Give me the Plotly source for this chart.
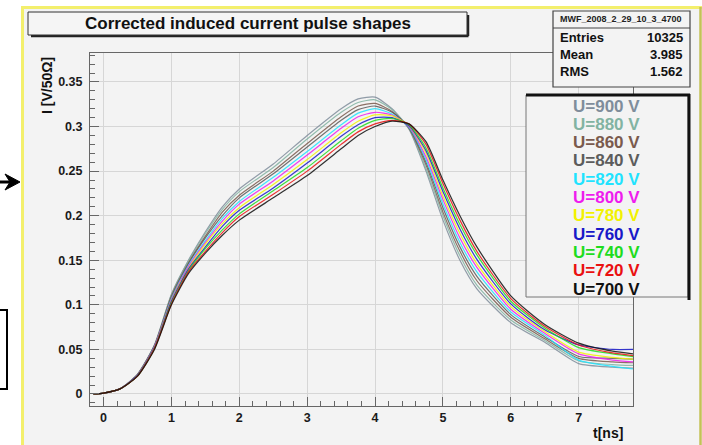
import plotly.graph_objects as go

# ---- data -------------------------------------------------------------
t_ns = [-0.15, 0.0, 0.25, 0.5, 0.75, 1.0, 1.25, 1.5, 1.75, 2.0, 2.5, 3.0, 3.5,
        3.75, 4.0, 4.25, 4.5, 4.75, 5.0, 5.25, 5.5, 6.0, 6.5, 7.0, 7.5, 7.8]

voltages = [900, 880, 860, 840, 820, 800, 780, 760, 740, 720, 700]
legend_labels = [f"U={v} V" for v in voltages]

i_900 = [0.000, 0.001, 0.006, 0.022, 0.055, 0.112, 0.150, 0.182, 0.210, 0.230, 0.258, 0.290, 0.320,
         0.331, 0.333, 0.320, 0.297, 0.250, 0.195, 0.150, 0.118, 0.080, 0.058, 0.034, 0.030, 0.029]
i_880 = [0.000, 0.001, 0.006, 0.022, 0.055, 0.111, 0.149, 0.180, 0.207, 0.227, 0.254, 0.286, 0.316,
         0.327, 0.330, 0.319, 0.298, 0.253, 0.200, 0.155, 0.122, 0.083, 0.060, 0.037, 0.033, 0.032]
i_860 = [0.000, 0.001, 0.006, 0.022, 0.054, 0.110, 0.147, 0.177, 0.204, 0.223, 0.250, 0.281, 0.311,
         0.323, 0.326, 0.317, 0.298, 0.257, 0.204, 0.160, 0.127, 0.086, 0.062, 0.040, 0.036, 0.035]
i_840 = [0.000, 0.001, 0.006, 0.021, 0.054, 0.108, 0.146, 0.175, 0.200, 0.220, 0.247, 0.277, 0.307,
         0.319, 0.323, 0.316, 0.299, 0.260, 0.209, 0.165, 0.132, 0.089, 0.064, 0.042, 0.040, 0.039]
i_820 = [0.000, 0.001, 0.006, 0.021, 0.053, 0.107, 0.144, 0.172, 0.197, 0.216, 0.243, 0.272, 0.302,
         0.315, 0.320, 0.314, 0.299, 0.263, 0.213, 0.170, 0.137, 0.092, 0.066, 0.038, 0.031, 0.028]
i_800 = [0.000, 0.001, 0.006, 0.021, 0.053, 0.106, 0.143, 0.170, 0.194, 0.213, 0.239, 0.268, 0.298,
         0.311, 0.316, 0.313, 0.300, 0.266, 0.218, 0.175, 0.142, 0.095, 0.068, 0.045, 0.038, 0.036]
i_780 = [0.000, 0.001, 0.006, 0.021, 0.052, 0.105, 0.141, 0.168, 0.191, 0.209, 0.235, 0.263, 0.293,
         0.306, 0.313, 0.312, 0.301, 0.270, 0.222, 0.180, 0.146, 0.098, 0.070, 0.047, 0.041, 0.039]
i_760 = [0.000, 0.001, 0.006, 0.021, 0.052, 0.104, 0.140, 0.165, 0.188, 0.206, 0.231, 0.259, 0.289,
         0.302, 0.310, 0.310, 0.301, 0.273, 0.227, 0.185, 0.151, 0.101, 0.072, 0.055, 0.050, 0.050]
i_740 = [0.000, 0.001, 0.006, 0.020, 0.051, 0.102, 0.138, 0.163, 0.184, 0.202, 0.228, 0.254, 0.284,
         0.298, 0.307, 0.309, 0.302, 0.276, 0.231, 0.190, 0.156, 0.104, 0.074, 0.052, 0.045, 0.042]
i_720 = [0.000, 0.001, 0.006, 0.020, 0.051, 0.101, 0.137, 0.160, 0.181, 0.199, 0.224, 0.250, 0.280,
         0.294, 0.303, 0.307, 0.303, 0.280, 0.236, 0.195, 0.160, 0.107, 0.076, 0.055, 0.046, 0.043]
i_700 = [0.000, 0.001, 0.006, 0.020, 0.050, 0.100, 0.135, 0.158, 0.178, 0.195, 0.220, 0.245, 0.275,
         0.290, 0.300, 0.306, 0.303, 0.283, 0.240, 0.200, 0.165, 0.110, 0.078, 0.057, 0.048, 0.045]

currents = [i_900, i_880, i_860, i_840, i_820, i_800, i_780, i_760, i_740, i_720, i_700]

colors = ["#7f8d9b", "#82b3a2", "#7a5a4d", "#5c5c5c", "#1fe3ff", "#ee1cee",
          "#f2f200", "#1818c8", "#1edc1e", "#ea1010", "#101010"]

stats_name = "MWF_2008_2_29_10_3_4700"
stats_rows = [("Entries", "10325"), ("Mean", "3.985"), ("RMS", "1.562")]

x_ticks = [0, 1, 2, 3, 4, 5, 6, 7]
y_ticks = [0, 0.05, 0.1, 0.15, 0.2, 0.25, 0.3, 0.35]

# ---- page geometry (pixels) --------------------------------------------
W, H = 702, 445
FL, FR, FT, FB = 90, 633, 53, 406   # frame of the plot area


def px(x):
    return (x - FL) / (FR - FL)


def py(y):
    return (FB - y) / (FB - FT)


fig = go.Figure()

# draw the pulses back to front so the low-voltage curves sit on top
for lab, ys, col in zip(legend_labels, currents, colors):
    fig.add_trace(go.Scatter(
        x=t_ns, y=ys, mode="lines", name=lab,
        line=dict(color=col, width=1.2, shape="spline", smoothing=0.6),
        opacity=0.85, showlegend=False, hoverinfo="skip",
    ))

shapes = []

# canvas background with its yellow border
shapes.append(dict(type="rect", xref="paper", yref="paper", layer="below",
                   x0=px(22), x1=px(702), y0=py(450), y1=py(8),
                   fillcolor="#f3f3f3", line=dict(width=0)))
shapes.append(dict(type="line", xref="paper", yref="paper", layer="above",
                   x0=px(22.5), x1=px(22.5), y0=py(450), y1=py(7),
                   line=dict(color="#f3ef6c", width=3)))
shapes.append(dict(type="line", xref="paper", yref="paper", layer="above",
                   x0=px(21), x1=px(702), y0=py(7.5), y1=py(7.5),
                   line=dict(color="#f3ef6c", width=3)))
shapes.append(dict(type="line", xref="paper", yref="paper", layer="above",
                   x0=px(700.5), x1=px(700.5), y0=py(450), y1=py(7),
                   line=dict(color="#c4c257", width=2.5)))

# arrow and box left of the canvas
shapes.append(dict(type="line", xref="paper", yref="paper", layer="above",
                   x0=px(-2), x1=px(12), y0=py(182), y1=py(182),
                   line=dict(color="black", width=3)))
shapes.append(dict(type="path", xref="paper", yref="paper", layer="above",
                   path=f"M {px(20)},{py(182)} L {px(5)},{py(174)} L {px(10)},{py(182)} L {px(5)},{py(190)} Z",
                   fillcolor="black", line=dict(color="black", width=1)))
shapes.append(dict(type="rect", xref="paper", yref="paper", layer="above",
                   x0=px(-5), x1=px(7), y0=py(389), y1=py(310),
                   fillcolor="white", line=dict(color="black", width=2)))

# title box with shadow
shapes.append(dict(type="line", xref="paper", yref="paper", layer="above",
                   x0=px(31), x1=px(468.5), y0=py(36), y1=py(36),
                   line=dict(color="#222", width=2.5)))
shapes.append(dict(type="line", xref="paper", yref="paper", layer="above",
                   x0=px(468), x1=px(468), y0=py(36), y1=py(15),
                   line=dict(color="#222", width=2.5)))
shapes.append(dict(type="rect", xref="paper", yref="paper", layer="above",
                   x0=px(28), x1=px(467), y0=py(35), y1=py(12),
                   fillcolor="#f5f5f5", line=dict(color="#333", width=1)))

# statistics box
shapes.append(dict(type="rect", xref="paper", yref="paper", layer="above",
                   x0=px(553), x1=px(690), y0=py(87), y1=py(11),
                   fillcolor="#f3f3f3", line=dict(color="#444", width=1.2)))
shapes.append(dict(type="line", xref="paper", yref="paper", layer="above",
                   x0=px(553), x1=px(690), y0=py(28), y1=py(28),
                   line=dict(color="#444", width=1)))

# legend box with heavy top/right edge
shapes.append(dict(type="rect", xref="paper", yref="paper", layer="above",
                   x0=px(526), x1=px(688), y0=py(297), y1=py(95),
                   fillcolor="#f3f3f3", line=dict(color="#777", width=1)))
shapes.append(dict(type="line", xref="paper", yref="paper", layer="above",
                   x0=px(526), x1=px(690), y0=py(95), y1=py(95),
                   line=dict(color="#111", width=3)))
shapes.append(dict(type="line", xref="paper", yref="paper", layer="above",
                   x0=px(689), x1=px(689), y0=py(300), y1=py(94),
                   line=dict(color="#111", width=3)))

annotations = []
FONT = "Liberation Sans, Arial, sans-serif"

annotations.append(dict(xref="paper", yref="paper", x=px(248), y=py(24),
                        text="<b>Corrected induced current pulse shapes</b>",
                        showarrow=False, xanchor="center", yanchor="middle",
                        font=dict(family=FONT, size=17, color="#111")))

annotations.append(dict(xref="paper", yref="paper", x=px(621), y=py(19.5),
                        text=f"<b>{stats_name}</b>", showarrow=False,
                        xanchor="center", yanchor="middle",
                        font=dict(family=FONT, size=9, color="#222")))
for k, (name, val) in enumerate(stats_rows):
    yc = 37 + 17 * k
    annotations.append(dict(xref="paper", yref="paper", x=px(558), y=py(yc),
                            text=f"<b>{name}</b>", showarrow=False,
                            xanchor="left", yanchor="middle",
                            font=dict(family=FONT, size=13, color="#111")))
    annotations.append(dict(xref="paper", yref="paper", x=px(685), y=py(yc),
                            text=f"<b>{val}</b>", showarrow=False,
                            xanchor="right", yanchor="middle",
                            font=dict(family=FONT, size=13, color="#111")))

for k, (lab, col) in enumerate(zip(legend_labels, colors)):
    yc = 106 + 18.3 * k
    annotations.append(dict(xref="paper", yref="paper", x=px(606), y=py(yc),
                            text=f"<b>{lab}</b>", showarrow=False,
                            xanchor="center", yanchor="middle",
                            font=dict(family=FONT, size=17, color=col)))

annotations.append(dict(xref="paper", yref="paper", x=px(47), y=py(86),
                        text="<b>I [V/50Ω]</b>", showarrow=False, textangle=-90,
                        xanchor="center", yanchor="middle",
                        font=dict(family=FONT, size=14, color="#111")))
annotations.append(dict(xref="paper", yref="paper", x=px(625), y=py(433),
                        text="<b>t[ns]</b>", showarrow=False,
                        xanchor="right", yanchor="middle",
                        font=dict(family=FONT, size=14, color="#111")))

axis_common = dict(
    showline=True, linecolor="#666", linewidth=1, mirror=True,
    showgrid=True, gridcolor="#d6d6d6", gridwidth=1,
    zeroline=False, ticks="inside", tickcolor="#666", ticklen=9,
    tickfont=dict(family=FONT, size=12.5, color="#1a1a1a", weight="bold"),
)

fig.update_layout(
    width=W, height=H,
    margin=dict(l=FL, r=W - FR, t=FT, b=H - FB),
    paper_bgcolor="white", plot_bgcolor="rgba(0,0,0,0)",
    showlegend=False,
    shapes=shapes, annotations=annotations,
    xaxis=dict(range=[-0.2, 7.8], tickvals=x_ticks, ticktext=[str(v) for v in x_ticks],
               minor=dict(dtick=0.2, ticks="inside", ticklen=5, tickcolor="#666", showgrid=False),
               **axis_common),
    yaxis=dict(range=[-0.0135, 0.3825], tickvals=y_ticks,
               ticktext=["0", "0.05", "0.1", "0.15", "0.2", "0.25", "0.3", "0.35"],
               ticklabelstandoff=4,
               minor=dict(dtick=0.01, ticks="inside", ticklen=5, tickcolor="#666", showgrid=False),
               **axis_common),
)

fig.write_html("out.html")
